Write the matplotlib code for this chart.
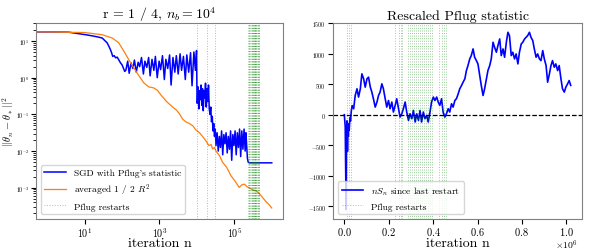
import numpy as np
import matplotlib
matplotlib.use("Agg")
import matplotlib.pyplot as plt

plt.rcParams["font.family"] = "serif"
plt.rcParams["font.serif"] = ["cmr10"]
plt.rcParams["mathtext.fontset"] = "cm"
plt.rcParams["axes.formatter.use_mathtext"] = True
plt.rcParams["axes.unicode_minus"] = False

# ---- left panel: squared error, log10 of iteration and error ----
sgd_log_n = [-0.30, 0.00, 0.57, 1.03, 1.20, 1.35, 1.47, 1.55, 1.60, 1.65, 1.69, 1.72,
             1.75, 1.79, 1.83, 1.87, 1.91, 1.96, 2.00, 2.04, 2.07,
             2.10, 2.15, 2.19, 2.24, 2.29, 2.33, 2.38, 2.43, 2.47, 2.52, 2.57, 2.61,
             2.66, 2.71, 2.75, 2.80, 2.85, 2.89, 2.94, 2.99, 3.03, 3.08, 3.13, 3.17,
             3.22, 3.27, 3.31, 3.36, 3.41, 3.45, 3.50, 3.55, 3.59, 3.64, 3.69, 3.73,
             3.78, 3.83, 3.87, 3.92, 3.96, 3.99, 4.00,
             4.01, 4.03, 4.05, 4.07, 4.09, 4.11, 4.13, 4.15, 4.17, 4.19, 4.21, 4.23,
             4.25, 4.27, 4.29, 4.31, 4.33,
             4.35, 4.37, 4.39, 4.41, 4.43, 4.45, 4.47, 4.49,
             4.51, 4.54, 4.57, 4.60, 4.63, 4.66, 4.69, 4.72, 4.75, 4.78, 4.81, 4.84,
             4.87, 4.90, 4.93, 4.96, 4.99, 5.02, 5.05, 5.08, 5.11, 5.14, 5.17, 5.20,
             5.23, 5.26, 5.29, 5.31, 5.33, 5.35, 5.37, 5.40, 6.00]
sgd_log_err = [1.245, 1.245, 1.24, 1.17, 1.14, 1.11, 1.08, 1.00, 0.95, 0.85, 0.76, 0.68,
               0.58, 0.60, 0.54, 0.56, 0.49, 0.40, 0.35, 0.25, 0.17,
               0.20, 0.45, 0.12, 0.40, 0.25, 0.48, 0.15, 0.42, 0.30, 0.55, 0.10, 0.45,
               0.28, 0.55, 0.05, 0.50, 0.20, 0.58, 0.00, 0.45, 0.22, 0.60, -0.05, 0.50,
               0.25, 0.62, -0.20, 0.55, 0.15, 0.60, 0.10, 0.65, 0.20, 0.58, -0.05, 0.62,
               0.15, 0.68, -0.22, 0.70, 0.20, 0.74, -0.30,
               -0.70, -0.25, -0.85, -0.35, -0.60, -0.20, -0.75, -0.30, -0.90, -0.35, -0.55, -0.15,
               -0.80, -0.30, -0.65, -0.20, -0.85,
               -1.00, -0.80, -1.20, -1.05, -1.45, -1.25, -1.60, -1.40,
               -1.85, -1.50, -2.00, -1.60, -1.90, -1.45, -2.10, -1.55, -1.80, -1.50, -2.05, -1.60,
               -1.95, -1.45, -2.25, -1.55, -1.85, -1.45, -2.10, -1.50, -1.90, -1.40, -2.15, -1.45,
               -1.95, -1.40, -2.00, -1.50, -1.85, -2.20, -2.30, -2.32, -2.32]

avg_log_n = [-0.30, 0.00, 1.00, 1.47, 1.74, 1.91, 2.05, 2.23, 2.40, 2.58, 2.71, 2.85,
             2.95, 3.03, 3.18, 3.35, 3.45, 3.53, 3.62, 3.70, 3.80, 3.89, 3.97, 4.07,
             4.15, 4.24, 4.32, 4.38, 4.42, 4.47, 4.51, 4.60, 4.69, 4.80, 4.91, 5.02,
             5.13, 5.20, 5.27, 5.34, 5.40, 5.48, 5.58, 5.66, 5.75, 5.85, 5.92, 6.00]
avg_log_err = [1.245, 1.245, 1.23, 1.17, 1.08, 0.95, 0.72, 0.40, 0.13, -0.14, -0.25, -0.28,
               -0.35, -0.46, -0.64, -0.80, -0.88, -0.98, -1.13, -1.20, -1.25, -1.31, -1.42, -1.50,
               -1.60, -1.72, -1.85, -1.82, -1.94, -1.90, -2.00, -2.12, -2.31, -2.45, -2.67, -2.82,
               -2.99, -2.92, -2.90, -2.97, -3.00, -3.05, -3.08, -3.15, -3.26, -3.38, -3.45, -3.55]

# restart iterations (shared by both panels)
restarts = [1.0e4, 1.9e4, 3.0e4, 2.27e5, 2.48e5, 2.54e5, 2.60e5, 2.87e5, 2.96e5,
            3.05e5, 3.14e5, 3.22e5, 3.34e5, 3.41e5, 3.50e5, 3.58e5, 3.67e5, 3.77e5,
            3.86e5, 3.97e5, 4.28e5, 4.39e5, 4.49e5, 4.58e5]

# ---- right panel: n S_n since last restart ----
pflug_n = [0.000, 0.004, 0.006, 0.008, 0.010, 0.012, 0.014, 0.016, 0.018, 0.020, 0.022,
           0.025, 0.028, 0.031, 0.035, 0.042, 0.049, 0.057, 0.064, 0.072, 0.079, 0.087,
           0.094, 0.102, 0.109, 0.117, 0.124, 0.131, 0.139, 0.147, 0.154, 0.161, 0.169,
           0.176, 0.184, 0.191, 0.199, 0.206, 0.214, 0.221, 0.229, 0.236, 0.244, 0.251,
           0.259, 0.266, 0.274, 0.281, 0.289, 0.296, 0.304, 0.311, 0.319, 0.326, 0.334,
           0.341, 0.348, 0.356, 0.363, 0.371, 0.378, 0.386, 0.393, 0.401, 0.408, 0.416,
           0.423, 0.430, 0.438, 0.445, 0.453, 0.460, 0.468, 0.475, 0.483, 0.490, 0.498,
           0.505, 0.513, 0.520, 0.528, 0.535, 0.543, 0.550, 0.557, 0.565, 0.572, 0.580,
           0.587, 0.595, 0.602, 0.610, 0.617, 0.625, 0.632, 0.640, 0.647, 0.655, 0.662,
           0.670, 0.677, 0.685, 0.692, 0.700, 0.707, 0.715, 0.722, 0.730, 0.737, 0.744,
           0.752, 0.759, 0.767, 0.774, 0.782, 0.789, 0.797, 0.804, 0.812, 0.819, 0.826,
           0.834, 0.841, 0.849, 0.856, 0.864, 0.871, 0.879, 0.886, 0.894, 0.901, 0.909,
           0.916, 0.924, 0.931, 0.938, 0.946, 0.953, 0.961, 0.968, 0.976, 0.983, 0.991,
           0.998, 1.006, 1.013, 1.020]
pflug_stat = [0, -200, -900, -1550, -300, -100, -600, -250, -350, -150, -250,
              -50, -100, 50, 150, 98, 315, 424, 289, 424, 668, 587,
              451, 587, 614, 451, 370, 261, 125, 207, 315, 370, 505,
              424, 261, 125, 233, 98, 207, 44, 152, 261, 98, -38,
              16, 98, 207, 44, -93, 16, -65, 70, -119, 16, -93,
              70, -119, 44, -65, -11, -119, 44, 207, 289, 233, 289,
              207, 152, 261, 44, -38, 16, 98, 44, 179, 125, 233,
              261, 342, 424, 478, 532, 587, 722, 804, 913, 967, 1076,
              940, 885, 831, 641, 478, 315, 424, 587, 722, 804, 913,
              1185, 1103, 1022, 1130, 1239, 967, 1076, 940, 1185, 1348, 1293,
              967, 1022, 913, 994, 831, 1022, 1157, 1185, 1239, 1266, 1293,
              1348, 1266, 1212, 1076, 940, 994, 913, 885, 1049, 913, 804,
              532, 668, 804, 885, 777, 831, 722, 804, 587, 424, 370,
              451, 505, 559, 480]

fig = plt.figure(figsize=(5.98, 2.51), dpi=100)
ax1 = fig.add_axes([0.0602, 0.1235, 0.4130, 0.7809])
ax2 = fig.add_axes([0.5569, 0.1235, 0.4164, 0.7809])

ax1.plot(10 ** np.array(sgd_log_n), 10 ** np.array(sgd_log_err), color="blue", lw=1.1,
         label="SGD with Pflug's statistic")
ax1.plot(10 ** np.array(avg_log_n), 10 ** np.array(avg_log_err), color="C1", lw=0.9,
         label=r"averaged 1 / 2 $R^2$")
for i, r in enumerate(restarts):
    ax1.axvline(r, color="green", ls=":", lw=0.7, alpha=0.4,
                label="Pflug restarts" if i == 0 else None)
ax1.set_xscale("log")
ax1.set_yscale("log")
ax1.set_xlim(10 ** -0.3, 10 ** 6.3)
ax1.set_ylim(10 ** -3.85, 10 ** 1.49)
ax1.set_xticks([1e1, 1e3, 1e5])
ax1.set_xticks([], minor=True)
ax1.set_title(r"r = 1 / 4, $n_b = 10^4$", fontsize=10, pad=3)
ax1.set_ylabel(r"$||\theta_n - \theta_*||^2$", fontsize=7.5)
ax1.yaxis.set_label_coords(-0.082, 0.5)
ax1.legend(loc="lower left", fontsize=6.8, handlelength=2.3)

ax2.plot(np.array(pflug_n) * 1e6, pflug_stat, color="blue", lw=1.2,
         label=r"$nS_n$ since last restart")
for i, r in enumerate(restarts):
    ax2.axvline(r, color="green", ls=":", lw=0.7, alpha=0.4,
                label="Pflug restarts" if i == 0 else None)
ax2.axhline(0, color="black", ls="--", lw=0.9)
ax2.set_xlim(-0.051e6, 1.071e6)
ax2.set_ylim(-1705, 1500)
ax2.set_yticks([-1500, -1000, -500, 0, 500, 1000, 1500])
ax2.set_title("Rescaled Pflug statistic", fontsize=10, pad=3)
ax2.legend(loc="lower left", fontsize=6.8, handlelength=2.3)
ax2.xaxis.get_offset_text().set_visible(False)
ax2.text(0.985, -0.095, r"$\times10^{6}$", transform=ax2.transAxes,
         ha="right", va="top", fontsize=7)

for ax in (ax1, ax2):
    ax.set_xlabel("iteration n", fontsize=10, va="baseline")
    ax.xaxis.set_label_coords(0.5, -0.14)
    ax.tick_params(axis="y", labelsize=4.3, pad=1.5)
    for s in ax.spines.values():
        s.set_color("0.5")
ax1.tick_params(axis="x", labelsize=7.2, pad=1)
ax2.tick_params(axis="x", labelsize=7.5, pad=1)

fig.savefig("out.png", dpi=100, facecolor="white")
